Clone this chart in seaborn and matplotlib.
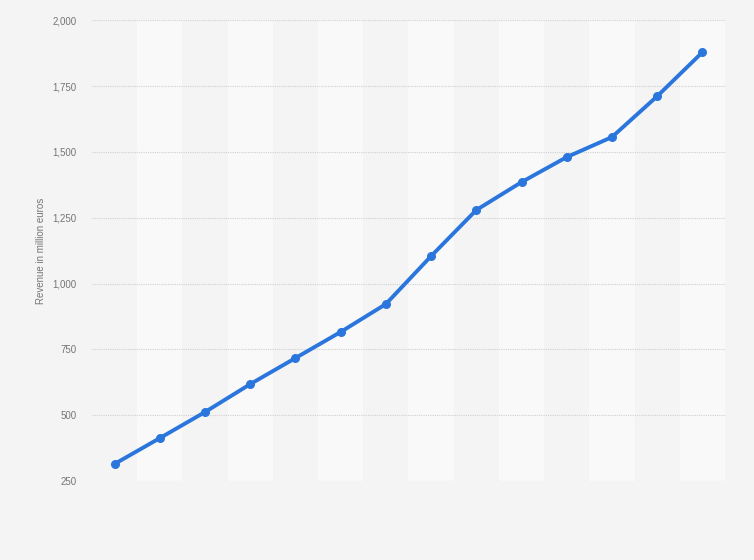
import numpy as np
import pandas as pd
import seaborn as sns
import matplotlib.pyplot as plt

# values (no x labels are shown in the original)
periods = list(range(14))
revenue = [315, 413, 512, 618, 717, 816, 922, 1104, 1279, 1385, 1480, 1556, 1711, 1878]
yticks = [250, 500, 750, 1000, 1250, 1500, 1750, 2000]

df = pd.DataFrame({"period": periods, "revenue": revenue})

sns.set_style("white")
plt.rcParams['font.family'] = ['Liberation Sans', 'DejaVu Sans']

fig = plt.figure(figsize=(7.54, 5.6), dpi=100, facecolor="#f4f4f4")
ax = fig.add_axes([0.122, 0.141, 0.8395, 0.823])
ax.set_facecolor("#f4f4f4")

# alternating column bands
for i in periods:
    if i % 2 == 1:
        ax.axvspan(i - 0.5, i + 0.5, color="#f9f9f9", zorder=0, lw=0)

sns.lineplot(data=df, x="period", y="revenue", ax=ax, color="#2a76dd",
             linewidth=2.8, marker="o", markersize=6.5, markeredgewidth=0,
             zorder=3)

ax.set_xlim(-0.5, 13.5)
ax.set_ylim(250, 2000)
ax.set_yticks(yticks)
ax.set_yticklabels([f"{v:,}" for v in yticks], fontsize=7, color="#757575")
ax.set_xticks([])
ax.tick_params(axis="y", length=0, pad=11)
ax.yaxis.grid(True, linestyle=(0, (1, 1)), color="#d0d0d0", linewidth=0.8)
ax.set_axisbelow(True)
for s in ax.spines.values():
    s.set_visible(False)

ax.set_xlabel("")
ax.set_ylabel("Revenue in million euros", fontsize=7, color="#757575")
ax.yaxis.set_label_coords(-0.072, 0.5)

fig.savefig("out.png", dpi=100, facecolor=fig.get_facecolor())
